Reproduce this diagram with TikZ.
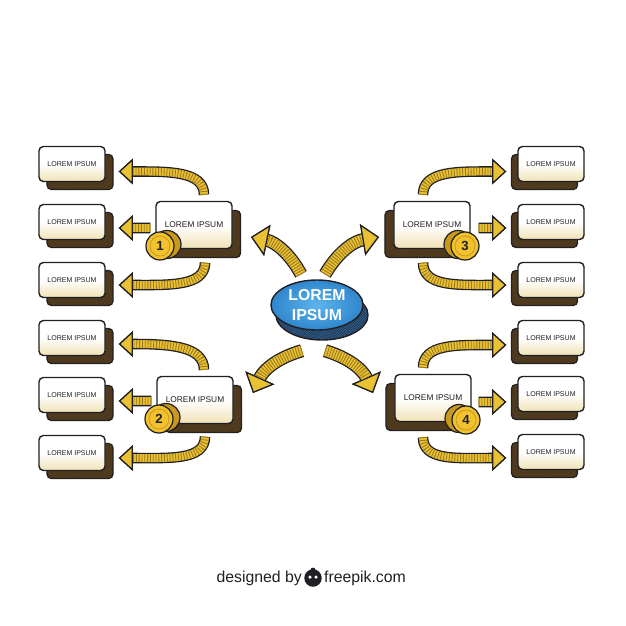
\documentclass[tikz,border=0pt]{standalone}
\usepackage{fontspec}
\setmainfont{Liberation Sans}
\usetikzlibrary{arrows.meta, positioning, shadows, patterns, shapes.geometric}

\definecolor{ink}{HTML}{202024}
\definecolor{cream}{HTML}{F0E2B6}
\definecolor{shadowbrown}{HTML}{5A4324}
\definecolor{hatchbrown}{HTML}{33240F}
\definecolor{flowyellow}{HTML}{E9C133}
\definecolor{flowstripe}{HTML}{9C7B1C}
\definecolor{coinyellow}{HTML}{F1C22E}
\definecolor{coindark}{HTML}{C8991C}
\definecolor{hubblue}{HTML}{2F86CC}
\definecolor{hublight}{HTML}{5DB4EC}
\definecolor{hubdark}{HTML}{2C5C8C}

\tikzset{
  box/.style={draw=ink, line width=1.6pt, rounded corners=5pt, top color=white, bottom color=cream, middle color=white,
    minimum width=2.64cm, minimum height=1.4cm, inner sep=1pt, text=ink, font=\fontsize{8}{9}\selectfont},
  leftbox/.style={box,
    general shadow={shadow xshift=0.32cm, shadow yshift=-0.32cm, fill=shadowbrown, draw=ink, line width=1.5pt},
    general shadow={shadow xshift=0.32cm, shadow yshift=-0.32cm, pattern=north east lines, pattern color=hatchbrown}},
  rightbox/.style={box,
    general shadow={shadow xshift=-0.26cm, shadow yshift=-0.32cm, fill=shadowbrown, draw=ink, line width=1.5pt},
    general shadow={shadow xshift=-0.26cm, shadow yshift=-0.32cm, pattern=north east lines, pattern color=hatchbrown}},
  midbox/.style={box, minimum width=3.04cm, minimum height=1.88cm, font=\fontsize{9.5}{11}\selectfont},
  leftmid/.style={midbox,
    general shadow={shadow xshift=0.34cm, shadow yshift=-0.36cm, fill=shadowbrown, draw=ink, line width=1.5pt},
    general shadow={shadow xshift=0.34cm, shadow yshift=-0.36cm, pattern=north east lines, pattern color=hatchbrown}},
  rightmid/.style={midbox,
    general shadow={shadow xshift=-0.36cm, shadow yshift=-0.36cm, fill=shadowbrown, draw=ink, line width=1.5pt},
    general shadow={shadow xshift=-0.36cm, shadow yshift=-0.36cm, pattern=north east lines, pattern color=hatchbrown}},
  coin/.style={circle, draw=ink, line width=1.4pt, fill=coinyellow, minimum size=1.12cm, inner sep=0pt,
    text=ink, font=\bfseries\fontsize{15}{15}\selectfont},
  coinl/.style={coin, general shadow={shadow xshift=0.28cm, shadow yshift=0.06cm, fill=coindark, draw=ink, line width=1.4pt}},
  coinr/.style={coin, general shadow={shadow xshift=-0.28cm, shadow yshift=0.06cm, fill=coindark, draw=ink, line width=1.4pt}},
  hub/.style={ellipse, draw=ink, line width=1.6pt, inner color=hublight, outer color=hubblue,
    minimum width=3.68cm, minimum height=2cm, inner sep=0pt, align=center, text=white,
    font=\bfseries\fontsize{18}{22}\selectfont,
    general shadow={shadow xshift=0.2cm, shadow yshift=-0.4cm, fill=hubdark, draw=ink, line width=1.6pt},
    general shadow={shadow xshift=0.2cm, shadow yshift=-0.4cm, pattern=north east lines, pattern color=ink}},
  flow/.style={draw=ink, line width=12pt,
    -{Triangle[length=16pt, width=29pt, line width=1.4pt, color=ink, fill=flowyellow]},
    postaction={draw=flowyellow, line width=9pt,
      -{Triangle[length=16pt, width=29pt, line width=1.4pt, color=ink, fill=flowyellow]}},
    postaction={draw=flowstripe, line width=9pt, dash pattern=on 1pt off 2.2pt, -, shorten >=16pt}},
  bigflow/.style={draw=ink, line width=15pt,
    -{Triangle[length=19pt, width=36pt, line width=1.4pt, color=ink, fill=flowyellow]},
    postaction={draw=flowyellow, line width=12pt,
      -{Triangle[length=19pt, width=36pt, line width=1.4pt, color=ink, fill=flowyellow]}},
    postaction={draw=flowstripe, line width=12pt, dash pattern=on 1pt off 2pt, -, shorten >=19pt}},
  credit/.style={inner sep=0pt, text=ink, font=\fontsize{18}{18}\selectfont}
}

\begin{document}
\begin{tikzpicture}[x=0.04cm, y=-0.04cm]
\useasboundingbox (0,0) rectangle (626,626);

\node[leftbox] (L1) at (72,164) {LOREM IPSUM};
\node[leftbox] (L2) at (72,222) {LOREM IPSUM};
\node[leftbox] (L3) at (72,280) {LOREM IPSUM};
\node[leftbox] (L4) at (72,338) {LOREM IPSUM};
\node[leftbox] (L5) at (72,395) {LOREM IPSUM};
\node[leftbox] (L6) at (72,453) {LOREM IPSUM};

\node[rightbox] (R1) at (551,164) {LOREM IPSUM};
\node[rightbox] (R2) at (551,222) {LOREM IPSUM};
\node[rightbox] (R3) at (551,280) {LOREM IPSUM};
\node[rightbox] (R4) at (551,338) {LOREM IPSUM};
\node[rightbox] (R5) at (551,394) {LOREM IPSUM};
\node[rightbox] (R6) at (551,452) {LOREM IPSUM};

\node[leftmid] (M1) at (194,225) {LOREM IPSUM};
\node[leftmid] (M2) at (195,400) {LOREM IPSUM};
\node[rightmid] (M3) at (432,225) {LOREM IPSUM};
\node[rightmid] (M4) at (433,398) {LOREM IPSUM};

\node[coinl] (B1) at (160,246) {1};
\node[coinl] (B2) at (159,419) {2};
\node[coinr] (B3) at (465,246) {3};
\node[coinr] (B4) at (466,420) {4};
\foreach \b in {B1,B2,B3,B4}
  \draw[coindark, line width=0.9pt] (\b.center) circle (0.4cm);

\node[hub] (C) at (317,305) {LOREM\\IPSUM};

\coordinate (ul) at (251,237);
\coordinate (ur) at (379,237);
\coordinate (ll) at (253,393);
\coordinate (lr) at (373,393);

\draw[flow] ([xshift=0.4cm, yshift=0.24cm]M1.north) .. controls +(0,-24) and +(50,0) .. ([xshift=0.52cm, yshift=-0.3cm]L1.east);
\draw[flow] ([xshift=-0.2cm, yshift=-0.12cm]M1.west) -- ([xshift=0.52cm, yshift=-0.24cm]L2.east);
\draw[flow] ([xshift=0.44cm, yshift=-0.54cm]M1.south) .. controls +(0,24) and +(50,0) .. ([xshift=0.52cm, yshift=-0.2cm]L3.east);

\draw[flow] ([xshift=0.36cm, yshift=0.24cm]M2.north) .. controls +(0,-24) and +(50,0) .. ([xshift=0.52cm, yshift=-0.24cm]L4.east);
\draw[flow] ([xshift=-0.2cm, yshift=-0.04cm]M2.west) -- ([xshift=0.52cm, yshift=-0.24cm]L5.east);
\draw[flow] ([xshift=0.4cm, yshift=-0.5cm]M2.south) .. controls +(0,24) and +(50,0) .. ([xshift=0.52cm, yshift=-0.2cm]L6.east);

\draw[flow] ([xshift=-0.36cm, yshift=0.24cm]M3.north) .. controls +(0,-24) and +(-50,0) .. ([xshift=-0.44cm, yshift=-0.3cm]R1.west);
\draw[flow] ([xshift=0.32cm, yshift=-0.12cm]M3.east) -- ([xshift=-0.44cm, yshift=-0.24cm]R2.west);
\draw[flow] ([xshift=-0.36cm, yshift=-0.54cm]M3.south) .. controls +(0,24) and +(-50,0) .. ([xshift=-0.44cm, yshift=-0.2cm]R3.west);

\draw[flow] ([xshift=-0.4cm, yshift=0.24cm]M4.north) .. controls +(0,-24) and +(-50,0) .. ([xshift=-0.44cm, yshift=-0.28cm]R4.west);
\draw[flow] ([xshift=0.28cm, yshift=-0.16cm]M4.east) -- ([xshift=-0.44cm, yshift=-0.32cm]R5.west);
\draw[flow] ([xshift=-0.4cm, yshift=-0.6cm]M4.south) .. controls +(0,24) and +(-50,0) .. ([xshift=-0.44cm, yshift=-0.24cm]R6.west);

\draw[bigflow] ([xshift=-0.64cm, yshift=0.2cm]C.north) to[bend right=25] (ul);
\draw[bigflow] ([xshift=0.32cm, yshift=0.2cm]C.north) to[bend left=25] (ur);
\draw[bigflow] ([xshift=-0.6cm, yshift=-0.8cm]C.south) to[bend right=25] (ll);
\draw[bigflow] ([xshift=0.32cm, yshift=-0.8cm]C.south) to[bend left=25] (lr);

\node[circle, fill=ink, minimum width=0.7cm, minimum height=0.56cm, inner sep=0pt] (logo) at (313,578) {};
\fill[white] ([xshift=-0.12cm, yshift=0.04cm]logo.center) circle (0.07cm) ([xshift=0.12cm, yshift=0.04cm]logo.center) circle (0.07cm);
\fill[ink] ([yshift=-0.04cm]logo.north) circle (0.1cm);
\node[credit, anchor=east] (dby) at ([xshift=-0.08cm]logo.west) {designed by};
\node[credit, anchor=west] (fpk) at ([xshift=0.08cm]logo.east) {freepik.com};
\end{tikzpicture}
\end{document}
